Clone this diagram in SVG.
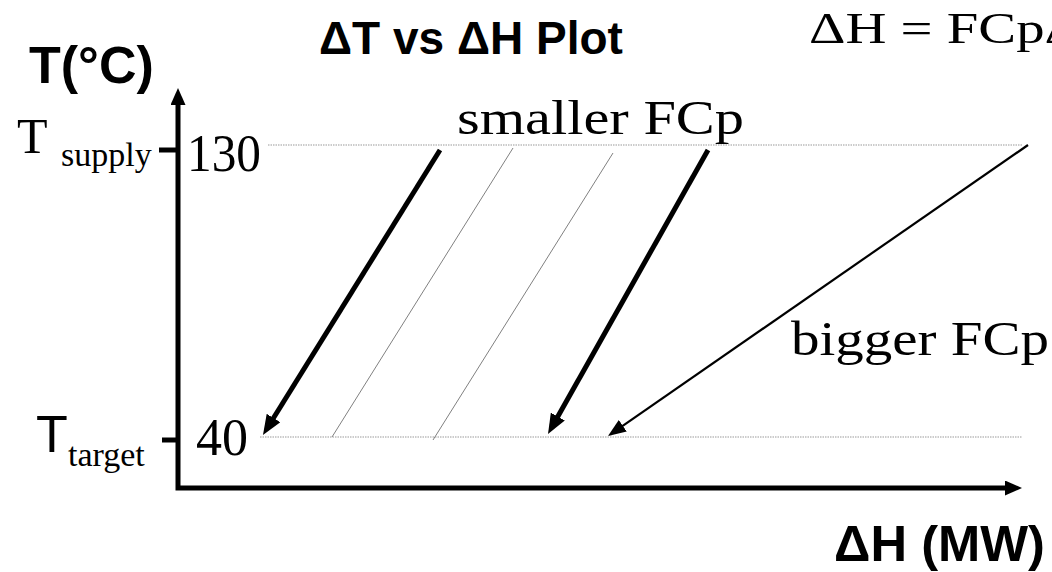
<svg xmlns="http://www.w3.org/2000/svg" width="1052" height="572" viewBox="0 0 1052 572">
<style>
.bold{font-family:"Liberation Sans",Arial,sans-serif;font-weight:bold;fill:#000}
.sans{font-family:"Liberation Sans",Arial,sans-serif;fill:#000}
.serif{font-family:"Liberation Serif","Times New Roman",serif;fill:#000}
.grid{stroke:#9a9a9a;stroke-width:1.2;stroke-dasharray:1.5 1;fill:none}
.guide{stroke:#808080;stroke-width:1;fill:none}
.axis{stroke:#000;stroke-width:5;fill:none;stroke-linejoin:miter}
.tick{stroke:#000;stroke-width:5}
.thick{stroke:#000;stroke-width:5;fill:none}
.thin{stroke:#000;stroke-width:2.2;fill:none}
</style>
<defs>
<marker id="axhead" markerUnits="userSpaceOnUse" markerWidth="17" markerHeight="15" refX="2" refY="7.5" orient="auto-start-reverse">
<path d="M0,0 L17,7.5 L0,15 z" fill="#000"/>
</marker>
<marker id="thickhead" markerUnits="userSpaceOnUse" markerWidth="20" markerHeight="16" refX="8" refY="8" orient="auto">
<path d="M0,0 L20,8 L0,16 z" fill="#000"/>
</marker>
<marker id="thinhead" markerUnits="userSpaceOnUse" markerWidth="18" markerHeight="14" refX="8" refY="7" orient="auto">
<path d="M0,0 L18,7 L0,14 z" fill="#000"/>
</marker>
</defs>

<g id="title">
<text class="bold" x="319" y="54" font-size="46">ΔT vs ΔH Plot</text>
</g>
<g id="equation">
<text class="serif" x="809" y="43" font-size="45" textLength="272" lengthAdjust="spacingAndGlyphs">ΔH = FCpΔ</text>
</g>
<g id="y-label">
<text class="bold" x="29" y="83" font-size="52">T(°C)</text>
</g>
<g id="x-label">
<text class="bold" x="834" y="561" font-size="50" textLength="211" lengthAdjust="spacingAndGlyphs">ΔH (MW)</text>
</g>

<g id="axes">
<path class="axis" d="M178,103 L178,488 L1007,488" marker-start="url(#axhead)" marker-end="url(#axhead)"/>
<line class="tick" x1="159" y1="150" x2="178" y2="150"/>
<line class="tick" x1="162" y1="440" x2="178" y2="440"/>
</g>

<g id="t-supply">
<text class="serif" x="17" y="153" font-size="50">T</text>
<text class="serif" x="61" y="166" font-size="34">supply</text>
<text class="serif" x="187" y="171" font-size="52" textLength="74" lengthAdjust="spacingAndGlyphs">130</text>
</g>
<g id="t-target">
<text class="sans" x="36" y="452" font-size="52">T</text>
<text class="serif" x="68" y="466" font-size="34">target</text>
<text class="serif" x="196" y="455" font-size="52">40</text>
</g>

<g id="grid-lines">
<line class="grid" x1="268" y1="145" x2="1022" y2="145"/>
<line class="grid" x1="260" y1="437" x2="1022" y2="437"/>
</g>

<g id="labels">
<text class="serif" x="457" y="134" font-size="49" textLength="287" lengthAdjust="spacingAndGlyphs">smaller FCp</text>
<text class="serif" x="791" y="355" font-size="49" textLength="258" lengthAdjust="spacingAndGlyphs">bigger FCp</text>
</g>

<g id="connectors">
<line class="guide" x1="513" y1="148" x2="332" y2="437"/>
<line class="guide" x1="613" y1="153" x2="433" y2="440"/>
<line class="thick" x1="440" y1="150" x2="269.3" y2="424.8" marker-end="url(#thickhead)"/>
<line class="thick" x1="708" y1="150" x2="553.9" y2="423.5" marker-end="url(#thickhead)"/>
<line class="thin" x1="1028" y1="145" x2="616.2" y2="430.3" marker-end="url(#thinhead)"/>
</g>
</svg>
